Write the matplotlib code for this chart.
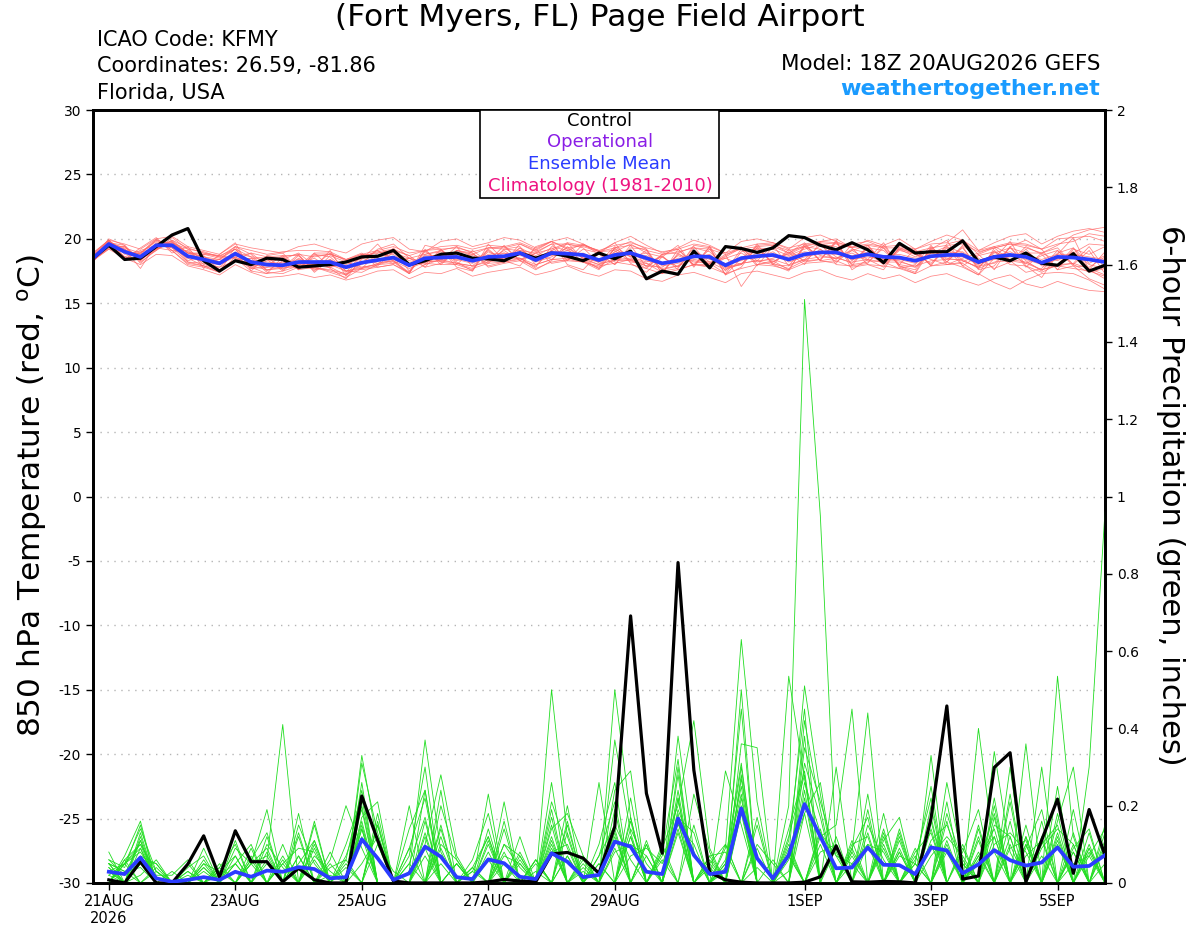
import pandas as pd
import matplotlib
matplotlib.use("Agg")
import matplotlib.pyplot as plt
import matplotlib.ticker as mticker
from matplotlib.patches import Rectangle

plt.rcParams['font.family'] = ['DejaVu Sans']
plt.rcParams['axes.unicode_minus'] = False

# 6-hourly steps from the 18Z 20AUG2026 run
times = pd.date_range("2026-08-20 18:00", periods=65, freq="6h")
precip_times = times[1:]  # 6h accumulations start at the first forecast step

tick_dates = ["2026-08-21", "2026-08-23", "2026-08-25", "2026-08-27",
              "2026-08-29", "2026-09-01", "2026-09-03", "2026-09-05"]
tick_labels = ["21AUG\n2026", "23AUG", "25AUG", "27AUG", "29AUG", "1SEP", "3SEP", "5SEP"]

# 850 hPa temperature (C)
control_temp = [18.5, 19.5, 18.4, 18.5, 19.4, 20.3, 20.8, 18.3, 17.5, 18.3, 18.0, 18.5, 18.4,
                17.8, 17.9, 18.0, 18.2, 18.6, 18.65, 19.1, 18.0, 18.3, 18.8, 18.9, 18.5, 18.45,
                18.3, 18.9, 18.5, 18.9, 18.65, 18.3, 18.9, 18.45, 19.05, 16.9, 17.5, 17.25, 19.05,
                17.75, 19.4, 19.25, 18.95, 19.3, 20.25, 20.1, 19.5, 19.15, 19.7, 19.15, 18.15, 19.65,
                18.9, 19.0, 19.0, 19.85, 18.2, 18.6, 18.3, 18.9, 18.1, 17.95, 18.85, 17.5, 17.95]
mean_temp = [18.5, 19.6, 19.0, 18.6, 19.5, 19.5, 18.65, 18.4, 18.1, 18.85, 18.2, 18.0, 17.95,
             18.2, 18.2, 18.2, 17.8, 18.15, 18.35, 18.55, 17.95, 18.5, 18.55, 18.6, 18.3, 18.6,
             18.65, 18.9, 18.35, 18.9, 18.85, 18.75, 18.35, 18.75, 18.9, 18.5, 18.1, 18.3, 18.65,
             18.6, 17.95, 18.5, 18.65, 18.75, 18.4, 18.8, 18.95, 18.95, 18.55, 18.8, 18.6, 18.55,
             18.3, 18.65, 18.75, 18.75, 18.2, 18.6, 18.75, 18.6, 18.15, 18.6, 18.55, 18.4, 18.2]

temp_m01 = [18.8, 19.9, 18.8, 18.9, 19.9, 19.1, 18.1, 17.9, 17.4, 18.6, 18.9, 18.6, 17.6, 18.7, 17.6, 17.8, 17.2, 18.1, 19.2, 19.6, 18.5, 17.8, 19.1, 19.4, 18.9, 17.9, 18.2, 19.6, 19.1, 19.8, 19.2, 18.2, 17.6, 19.3, 19.8, 19.2, 17.5, 17.7, 19.5, 19.3, 17.2, 17.8, 19.5, 19.6, 18.9, 18.0, 19.8, 20.0, 19.3, 18.0, 17.6, 19.4, 19.1, 17.9, 19.6, 19.9, 18.8, 17.6, 19.4, 19.9, 19.2, 17.6, 17.9, 16.9, 16.4]
temp_m02 = [18.3, 19.3, 19.4, 18.2, 19.1, 19.9, 19.3, 18.9, 18.6, 19.4, 17.8, 17.3, 18.6, 17.6, 18.7, 18.8, 18.4, 18.9, 17.8, 18.0, 17.4, 19.1, 18.2, 18.0, 17.6, 19.3, 19.4, 18.3, 17.6, 18.3, 19.7, 19.5, 19.1, 18.2, 18.0, 17.7, 18.8, 19.2, 18.0, 17.9, 18.7, 19.4, 18.0, 17.9, 17.6, 19.4, 18.3, 18.1, 19.6, 19.8, 19.3, 17.9, 17.4, 19.4, 18.2, 17.8, 17.2, 19.3, 19.6, 19.3, 18.9, 19.5, 20.3, 20.7, 20.9]
temp_m03 = [18.6, 19.5, 19.2, 17.7, 19.6, 19.8, 18.3, 18.7, 17.6, 18.4, 18.5, 18.4, 17.5, 18.5, 17.8, 17.5, 17.2, 18.7, 18.9, 19.1, 17.5, 19.0, 18.2, 19.1, 18.7, 18.1, 19.2, 19.4, 18.0, 18.4, 18.3, 19.2, 18.9, 18.0, 19.5, 17.8, 18.7, 17.6, 18.0, 19.2, 17.5, 19.2, 17.9, 19.4, 18.9, 19.5, 19.7, 18.0, 17.9, 19.5, 18.1, 19.2, 18.9, 18.0, 19.3, 17.9, 18.7, 19.0, 18.0, 17.9, 17.4, 18.0, 19.3, 17.6, 19.0]
temp_m04 = [18.2, 19.8, 18.6, 18.4, 19.3, 19.1, 19.1, 18.0, 18.4, 19.4, 18.8, 17.5, 18.3, 17.7, 18.8, 18.6, 17.5, 17.4, 18.0, 18.1, 18.5, 18.0, 19.2, 18.2, 17.5, 19.2, 18.2, 18.4, 18.9, 19.6, 18.3, 18.2, 17.8, 19.3, 18.3, 19.1, 17.3, 18.9, 19.4, 17.9, 18.5, 18.0, 19.3, 18.1, 17.7, 18.3, 18.4, 19.7, 18.0, 18.2, 19.3, 17.9, 17.6, 19.3, 18.2, 19.4, 17.6, 17.9, 19.4, 17.8, 18.9, 19.3, 18.0, 19.1, 17.3]
temp_m05 = [18.5, 20.0, 19.5, 18.1, 19.2, 19.9, 18.9, 18.9, 18.7, 18.5, 17.7, 18.3, 18.4, 18.9, 17.9, 18.9, 17.5, 17.7, 17.9, 19.0, 18.3, 18.1, 18.0, 19.1, 18.8, 18.3, 19.1, 18.3, 17.9, 19.1, 19.6, 19.3, 18.1, 18.3, 18.4, 17.9, 17.8, 18.7, 18.2, 18.1, 17.3, 19.0, 19.2, 18.2, 18.9, 19.7, 18.3, 18.5, 19.1, 18.4, 17.8, 19.3, 18.8, 18.1, 19.4, 18.3, 17.8, 18.9, 19.3, 18.3, 17.5, 18.9, 19.3, 18.1, 18.7]
temp_m06 = [18.6, 19.6, 18.6, 19.1, 19.5, 19.3, 18.2, 18.1, 17.8, 18.9, 18.6, 17.6, 17.7, 18.0, 18.5, 17.7, 16.9, 18.5, 19.1, 18.3, 17.4, 18.8, 19.0, 18.1, 17.9, 19.0, 18.4, 19.3, 18.7, 19.3, 18.5, 18.3, 17.7, 19.0, 19.6, 18.9, 17.6, 17.9, 19.3, 19.0, 17.8, 18.1, 18.3, 19.5, 17.9, 18.4, 19.5, 18.6, 18.1, 19.3, 19.1, 18.0, 17.8, 19.2, 18.4, 19.3, 17.7, 19.1, 18.2, 19.2, 17.9, 17.9, 18.1, 19.4, 17.7]
temp_m07 = [18.4, 19.2, 19.1, 18.8, 19.9, 19.6, 18.5, 18.8, 18.7, 19.2, 17.9, 18.6, 18.7, 18.7, 17.5, 18.7, 18.2, 17.8, 18.0, 19.3, 17.9, 18.2, 18.3, 19.4, 17.8, 18.4, 18.9, 18.5, 17.8, 19.4, 19.1, 19.6, 19.0, 19.1, 18.2, 18.1, 17.4, 18.8, 18.3, 18.1, 18.6, 19.3, 18.3, 18.0, 17.9, 19.4, 19.2, 18.4, 19.2, 18.9, 18.0, 19.1, 18.8, 18.4, 18.0, 18.5, 18.9, 19.4, 18.8, 18.1, 18.7, 19.1, 17.9, 17.8, 18.6]
temp_m08 = [18.8, 19.5, 19.2, 18.3, 19.4, 19.7, 19.2, 18.3, 18.0, 18.6, 17.9, 18.1, 17.9, 17.9, 18.9, 17.8, 18.3, 18.8, 18.5, 18.1, 18.5, 18.8, 19.1, 18.3, 18.8, 19.3, 19.2, 19.1, 18.9, 18.4, 19.4, 18.5, 18.0, 19.2, 18.6, 18.9, 18.6, 17.8, 19.0, 18.5, 17.7, 18.0, 19.3, 19.2, 18.7, 19.2, 19.6, 19.4, 18.3, 19.3, 18.4, 18.3, 17.8, 18.9, 19.4, 18.9, 17.9, 18.1, 19.3, 18.9, 18.9, 18.3, 19.0, 18.0, 17.7]
temp_m09 = [18.2, 19.7, 19.3, 18.9, 19.8, 19.3, 18.5, 17.9, 17.5, 18.3, 18.5, 17.4, 17.3, 17.8, 17.7, 17.6, 17.3, 17.7, 18.1, 18.3, 17.3, 18.0, 18.4, 18.1, 17.7, 18.1, 18.2, 18.5, 17.7, 18.2, 18.4, 18.2, 17.9, 18.1, 18.4, 17.7, 17.3, 17.6, 18.0, 17.8, 17.3, 17.7, 18.0, 18.3, 17.6, 18.1, 18.2, 18.3, 17.8, 18.0, 17.9, 17.7, 17.3, 17.9, 18.0, 18.1, 17.3, 16.6, 16.1, 16.8, 17.3, 17.4, 17.3, 16.8, 16.1]
temp_m10 = [18.9, 19.9, 18.9, 19.0, 19.2, 19.8, 18.9, 18.8, 18.5, 19.2, 18.6, 18.5, 18.6, 18.8, 18.6, 18.8, 18.4, 18.6, 19.0, 19.2, 18.7, 19.1, 19.2, 19.3, 19.0, 19.3, 19.3, 19.6, 19.0, 19.6, 19.6, 19.4, 19.0, 19.3, 19.5, 19.1, 18.8, 19.0, 19.3, 19.2, 18.8, 19.2, 19.4, 19.5, 19.1, 19.4, 19.7, 19.6, 19.3, 19.5, 19.3, 19.3, 19.0, 19.3, 19.5, 19.6, 19.0, 19.3, 19.6, 19.5, 19.2, 19.6, 19.8, 20.4, 20.2]
temp_m11 = [18.7, 19.9, 19.6, 19.2, 20.0, 20.2, 19.4, 19.1, 18.8, 19.6, 19.3, 19.1, 18.9, 19.4, 19.6, 19.2, 18.9, 19.6, 19.9, 20.1, 19.2, 19.0, 19.8, 20.0, 19.4, 19.7, 20.1, 19.9, 19.3, 19.8, 20.1, 19.6, 19.0, 19.7, 20.2, 19.5, 18.9, 19.3, 19.9, 19.5, 18.9, 19.8, 20.0, 19.7, 19.2, 20.1, 20.3, 19.8, 19.3, 19.9, 19.5, 20.0, 19.2, 19.8, 20.3, 19.9, 19.1, 19.7, 20.2, 20.4, 19.6, 20.2, 20.6, 20.8, 20.5]
temp_m12 = [18.6, 19.7, 19.5, 18.3, 19.6, 19.6, 18.2, 17.9, 17.8, 18.3, 18.9, 17.9, 18.7, 17.6, 18.9, 18.9, 18.3, 17.6, 17.8, 18.0, 17.3, 19.2, 18.0, 18.0, 19.1, 18.2, 19.5, 18.3, 19.2, 18.1, 18.3, 19.6, 18.8, 18.0, 19.3, 19.2, 17.3, 19.2, 17.9, 19.4, 17.8, 18.0, 19.6, 18.0, 19.2, 18.2, 18.4, 19.8, 17.9, 18.1, 19.5, 18.0, 19.2, 17.9, 18.2, 19.5, 18.5, 17.7, 18.2, 19.4, 18.8, 17.6, 19.2, 18.8, 19.4]
temp_m13 = [18.4, 19.5, 19.0, 18.8, 19.3, 19.5, 19.0, 18.6, 18.4, 19.2, 17.7, 17.8, 17.8, 18.8, 17.4, 18.4, 17.4, 18.8, 18.7, 18.9, 18.5, 18.2, 18.8, 18.5, 18.2, 19.1, 18.3, 19.3, 18.2, 18.6, 19.3, 18.5, 18.2, 19.4, 18.6, 18.2, 18.6, 17.8, 19.1, 18.2, 18.5, 18.9, 18.2, 18.5, 18.8, 19.4, 18.7, 18.5, 18.9, 18.3, 18.2, 19.2, 18.6, 19.1, 18.5, 18.3, 17.8, 19.0, 18.4, 18.2, 17.6, 18.0, 18.1, 17.7, 17.2]
temp_m14 = [18.6, 19.6, 18.9, 18.5, 19.7, 19.4, 18.6, 18.2, 18.0, 18.8, 18.3, 18.2, 18.1, 18.4, 18.1, 17.8, 18.0, 18.5, 18.1, 18.4, 17.9, 18.7, 18.7, 18.4, 18.1, 18.8, 18.9, 18.7, 18.5, 19.1, 18.7, 18.9, 18.3, 18.6, 18.9, 18.3, 18.0, 18.5, 18.5, 18.8, 17.8, 18.6, 18.5, 19.0, 18.2, 18.6, 18.9, 18.8, 18.7, 18.9, 18.7, 18.8, 18.5, 18.6, 18.9, 19.0, 18.1, 18.4, 18.6, 18.7, 18.4, 18.8, 18.8, 18.6, 18.4]
temp_m15 = [18.5, 19.8, 19.2, 18.6, 19.3, 19.7, 18.9, 18.6, 18.2, 19.0, 18.0, 17.8, 18.2, 18.0, 18.0, 18.4, 17.7, 18.0, 18.6, 18.8, 17.9, 18.3, 18.4, 18.8, 18.5, 18.4, 18.5, 19.1, 18.6, 18.7, 19.1, 18.6, 18.2, 19.0, 18.7, 18.7, 17.9, 18.1, 18.9, 18.4, 18.1, 18.3, 18.9, 18.6, 18.6, 19.0, 18.8, 19.2, 18.4, 18.6, 18.4, 18.4, 18.1, 18.9, 18.6, 18.6, 18.0, 18.7, 19.0, 18.4, 18.0, 18.4, 18.9, 19.6, 19.5]
temp_m16 = [18.3, 19.5, 19.4, 18.4, 19.1, 20.1, 19.2, 19.0, 18.6, 18.5, 17.5, 17.3, 17.5, 17.9, 17.8, 17.4, 17.0, 17.7, 18.9, 19.1, 18.7, 17.8, 18.1, 19.1, 18.9, 17.8, 18.1, 18.3, 18.9, 19.2, 19.7, 18.4, 17.7, 18.4, 18.3, 17.9, 18.8, 18.9, 18.0, 18.0, 18.8, 16.3, 18.0, 18.2, 19.0, 18.3, 19.2, 18.2, 19.1, 19.5, 18.2, 17.7, 18.0, 19.5, 18.0, 18.2, 18.8, 19.3, 18.3, 17.4, 17.7, 19.1, 18.0, 17.4, 17.7]
temp_m17 = [18.3, 19.2, 18.5, 18.0, 18.8, 18.7, 17.9, 17.6, 17.2, 18.0, 17.4, 17.0, 17.1, 17.3, 17.0, 17.2, 16.8, 17.1, 17.5, 17.6, 16.9, 17.4, 17.3, 17.7, 17.1, 17.4, 17.6, 17.8, 17.2, 17.5, 17.9, 17.4, 17.1, 17.6, 17.5, 16.9, 16.7, 17.2, 17.4, 17.0, 16.6, 17.3, 17.5, 17.2, 16.9, 17.4, 17.6, 17.1, 16.8, 17.3, 16.9, 17.2, 16.6, 17.1, 17.3, 16.8, 16.4, 16.9, 17.2, 16.5, 16.2, 16.7, 16.3, 16.0, 15.9]
temp_m18 = [18.6, 19.8, 18.4, 19.3, 20.1, 18.9, 19.4, 17.7, 18.8, 19.7, 17.5, 18.7, 18.9, 17.6, 17.8, 19.1, 17.1, 18.4, 19.6, 18.2, 17.3, 19.5, 19.2, 17.8, 17.5, 19.6, 18.3, 17.9, 19.4, 19.8, 18.0, 17.6, 18.9, 19.7, 18.1, 17.4, 18.6, 19.5, 17.8, 19.4, 17.2, 18.5, 19.4, 18.0, 17.5, 19.6, 18.3, 19.9, 17.6, 18.4, 19.7, 17.8, 17.3, 19.2, 19.9, 17.9, 17.2, 18.5, 19.8, 17.9, 17.0, 18.8, 20.1, 17.6, 16.9]
temp_m19 = [18.9, 19.9, 18.5, 18.9, 20.0, 19.1, 18.0, 17.8, 17.4, 19.4, 19.1, 18.8, 19.0, 19.1, 19.1, 19.0, 18.4, 18.8, 19.1, 19.4, 18.9, 19.1, 19.4, 19.5, 19.2, 19.5, 19.4, 19.7, 19.2, 19.8, 19.3, 19.5, 19.1, 19.5, 19.7, 19.3, 19.0, 19.2, 19.6, 19.4, 18.9, 19.3, 19.6, 19.7, 19.3, 19.6, 19.8, 19.7, 19.4, 19.6, 19.4, 19.5, 19.2, 19.6, 19.7, 20.7, 19.1, 19.4, 19.7, 19.6, 19.2, 20.0, 20.1, 20.2, 19.8]
temp_m20 = [18.4, 19.3, 19.0, 18.4, 19.2, 19.7, 18.9, 18.3, 18.4, 18.6, 17.9, 17.6, 17.8, 17.8, 18.0, 18.0, 17.5, 17.8, 18.0, 18.3, 17.7, 18.2, 18.3, 18.1, 17.9, 18.2, 18.4, 18.5, 18.0, 18.4, 18.5, 18.4, 18.0, 18.4, 18.5, 18.1, 17.7, 17.9, 18.4, 18.2, 17.6, 18.1, 18.3, 18.4, 18.0, 18.4, 18.6, 18.5, 18.2, 18.4, 18.2, 18.2, 17.9, 18.3, 18.4, 18.4, 17.7, 18.2, 18.3, 18.1, 17.6, 17.9, 17.7, 17.5, 17.1]

# 6-hour precipitation (inches), valid 21AUG 00Z onwards
control_precip = [0.008, 0.0, 0.055, 0.0, 0.0, 0.049, 0.122, 0.015,
                  0.135, 0.055, 0.055, 0.003, 0.038, 0.008, 0.0, 0.0,
                  0.225, 0.111, 0.005, 0.0, 0.0, 0.0, 0.0, 0.0,
                  0.003, 0.009, 0.005, 0.003, 0.075, 0.079, 0.064, 0.025,
                  0.146, 0.691, 0.232, 0.077, 0.829, 0.292, 0.027, 0.008,
                  0.002, 0.0, 0.0, 0.0, 0.002, 0.016, 0.096, 0.003,
                  0.002, 0.004, 0.003, 0.0, 0.167, 0.458, 0.01, 0.018,
                  0.299, 0.337, 0.003, 0.111, 0.217, 0.025, 0.19, 0.072]
mean_precip = [0.029, 0.023, 0.066, 0.012, 0.003, 0.008, 0.015, 0.008,
               0.029, 0.016, 0.032, 0.029, 0.041, 0.036, 0.012, 0.015,
               0.113, 0.064, 0.008, 0.025, 0.094, 0.068, 0.015, 0.010,
               0.061, 0.051, 0.016, 0.010, 0.077, 0.055, 0.015, 0.021,
               0.107, 0.094, 0.029, 0.023, 0.167, 0.072, 0.023, 0.029,
               0.193, 0.064, 0.012, 0.072, 0.204, 0.120, 0.038, 0.040,
               0.092, 0.047, 0.046, 0.023, 0.092, 0.084, 0.025, 0.048,
               0.085, 0.059, 0.045, 0.053, 0.092, 0.042, 0.044, 0.072]

precip_m01 = [0.04, 0.00, 0.12, 0.00, 0.00, 0.00, 0.00, 0.00, 0.00, 0.00, 0.08, 0.00, 0.13, 0.00, 0.00, 0.00, 0.26, 0.00, 0.00, 0.00, 0.00, 0.09, 0.00, 0.00, 0.00, 0.16, 0.00, 0.00, 0.19, 0.00, 0.00, 0.00, 0.00, 0.12, 0.00, 0.00, 0.22, 0.00, 0.00, 0.00, 0.28, 0.00, 0.00, 0.20, 1.51, 0.95, 0.08, 0.00, 0.00, 0.00, 0.14, 0.00, 0.00, 0.21, 0.00, 0.00, 0.17, 0.00, 0.00, 0.12, 0.00, 0.00, 0.09, 0.00]
precip_m02 = [0.06, 0.04, 0.15, 0.00, 0.00, 0.05, 0.00, 0.00, 0.00, 0.07, 0.00, 0.10, 0.00, 0.15, 0.00, 0.06, 0.00, 0.18, 0.00, 0.09, 0.22, 0.00, 0.05, 0.00, 0.00, 0.00, 0.12, 0.00, 0.00, 0.20, 0.00, 0.07, 0.21, 0.00, 0.10, 0.00, 0.30, 0.00, 0.04, 0.00, 0.00, 0.17, 0.00, 0.00, 0.24, 0.00, 0.12, 0.00, 0.19, 0.00, 0.00, 0.06, 0.22, 0.00, 0.00, 0.15, 0.00, 0.21, 0.00, 0.00, 0.25, 0.00, 0.30, 0.96]
precip_m03 = [0.03, 0.00, 0.07, 0.05, 0.00, 0.00, 0.06, 0.00, 0.07, 0.00, 0.00, 0.00, 0.18, 0.00, 0.05, 0.00, 0.31, 0.13, 0.00, 0.00, 0.00, 0.24, 0.00, 0.04, 0.12, 0.00, 0.06, 0.00, 0.26, 0.00, 0.07, 0.00, 0.00, 0.22, 0.00, 0.10, 0.00, 0.00, 0.00, 0.09, 0.63, 0.21, 0.00, 0.00, 0.38, 0.00, 0.00, 0.11, 0.00, 0.18, 0.00, 0.00, 0.00, 0.26, 0.06, 0.00, 0.22, 0.00, 0.12, 0.00, 0.00, 0.19, 0.00, 0.00]
precip_m04 = [0.00, 0.07, 0.16, 0.00, 0.00, 0.00, 0.00, 0.04, 0.00, 0.09, 0.00, 0.06, 0.00, 0.00, 0.08, 0.00, 0.15, 0.00, 0.00, 0.14, 0.24, 0.00, 0.00, 0.06, 0.18, 0.00, 0.00, 0.00, 0.00, 0.15, 0.00, 0.10, 0.26, 0.00, 0.00, 0.06, 0.00, 0.23, 0.08, 0.00, 0.50, 0.00, 0.00, 0.535, 0.27, 0.00, 0.00, 0.00, 0.00, 0.11, 0.17, 0.00, 0.14, 0.00, 0.08, 0.19, 0.00, 0.12, 0.00, 0.16, 0.00, 0.00, 0.13, 0.00]
precip_m05 = [0.05, 0.03, 0.04, 0.00, 0.00, 0.00, 0.09, 0.00, 0.00, 0.00, 0.06, 0.41, 0.00, 0.00, 0.00, 0.00, 0.05, 0.12, 0.00, 0.00, 0.00, 0.20, 0.06, 0.00, 0.00, 0.05, 0.00, 0.00, 0.50, 0.12, 0.00, 0.00, 0.14, 0.00, 0.10, 0.00, 0.19, 0.08, 0.00, 0.05, 0.25, 0.00, 0.06, 0.00, 0.35, 0.21, 0.07, 0.00, 0.23, 0.00, 0.00, 0.08, 0.13, 0.00, 0.00, 0.05, 0.18, 0.00, 0.07, 0.11, 0.00, 0.10, 0.00, 0.15]
precip_m06 = [0.02, 0.00, 0.02, 0.06, 0.00, 0.00, 0.04, 0.00, 0.09, 0.05, 0.00, 0.00, 0.07, 0.00, 0.00, 0.10, 0.22, 0.00, 0.00, 0.00, 0.13, 0.00, 0.00, 0.00, 0.00, 0.14, 0.00, 0.06, 0.00, 0.00, 0.04, 0.00, 0.50, 0.17, 0.00, 0.08, 0.00, 0.00, 0.06, 0.00, 0.18, 0.00, 0.00, 0.11, 0.45, 0.00, 0.00, 0.08, 0.00, 0.00, 0.09, 0.00, 0.20, 0.00, 0.00, 0.12, 0.00, 0.23, 0.00, 0.00, 0.10, 0.00, 0.08, 0.00]
precip_m07 = [0.08, 0.00, 0.13, 0.00, 0.00, 0.03, 0.00, 0.00, 0.00, 0.00, 0.12, 0.00, 0.00, 0.09, 0.00, 0.00, 0.00, 0.15, 0.00, 0.07, 0.30, 0.00, 0.00, 0.00, 0.11, 0.00, 0.00, 0.00, 0.09, 0.00, 0.00, 0.05, 0.00, 0.14, 0.05, 0.00, 0.28, 0.00, 0.00, 0.06, 0.31, 0.00, 0.00, 0.07, 0.00, 0.12, 0.15, 0.45, 0.00, 0.00, 0.07, 0.05, 0.00, 0.18, 0.05, 0.00, 0.00, 0.09, 0.11, 0.00, 0.535, 0.12, 0.00, 0.00]
precip_m08 = [0.00, 0.06, 0.10, 0.03, 0.00, 0.00, 0.00, 0.00, 0.05, 0.10, 0.00, 0.00, 0.00, 0.11, 0.00, 0.00, 0.17, 0.21, 0.00, 0.00, 0.00, 0.10, 0.06, 0.00, 0.00, 0.07, 0.05, 0.00, 0.14, 0.18, 0.07, 0.00, 0.12, 0.00, 0.00, 0.09, 0.20, 0.42, 0.09, 0.00, 0.00, 0.09, 0.00, 0.14, 0.29, 0.00, 0.00, 0.08, 0.44, 0.00, 0.11, 0.00, 0.17, 0.00, 0.00, 0.00, 0.12, 0.00, 0.09, 0.19, 0.00, 0.00, 0.10, 0.00]
precip_m09 = [0.04, 0.00, 0.09, 0.00, 0.00, 0.00, 0.05, 0.03, 0.07, 0.00, 0.05, 0.00, 0.00, 0.07, 0.03, 0.00, 0.20, 0.00, 0.00, 0.03, 0.37, 0.08, 0.00, 0.00, 0.08, 0.00, 0.00, 0.03, 0.00, 0.00, 0.00, 0.07, 0.15, 0.06, 0.00, 0.00, 0.24, 0.00, 0.05, 0.10, 0.00, 0.10, 0.05, 0.00, 0.31, 0.17, 0.00, 0.00, 0.10, 0.08, 0.00, 0.07, 0.00, 0.09, 0.00, 0.40, 0.08, 0.00, 0.00, 0.09, 0.14, 0.10, 0.00, 0.09]
precip_m10 = [0.00, 0.05, 0.08, 0.02, 0.02, 0.06, 0.00, 0.00, 0.11, 0.00, 0.00, 0.00, 0.15, 0.05, 0.00, 0.00, 0.33, 0.10, 0.03, 0.00, 0.00, 0.14, 0.00, 0.03, 0.00, 0.10, 0.04, 0.00, 0.17, 0.00, 0.05, 0.00, 0.08, 0.10, 0.07, 0.00, 0.38, 0.08, 0.00, 0.00, 0.20, 0.00, 0.00, 0.03, 0.26, 0.13, 0.07, 0.05, 0.00, 0.14, 0.00, 0.05, 0.25, 0.00, 0.09, 0.00, 0.15, 0.12, 0.00, 0.00, 0.11, 0.00, 0.07, 0.14]
precip_m11 = [0.06, 0.02, 0.11, 0.00, 0.00, 0.00, 0.03, 0.00, 0.00, 0.05, 0.07, 0.00, 0.00, 0.00, 0.02, 0.00, 0.16, 0.00, 0.00, 0.00, 0.10, 0.28, 0.07, 0.00, 0.10, 0.00, 0.00, 0.05, 0.00, 0.13, 0.00, 0.00, 0.00, 0.07, 0.09, 0.05, 0.16, 0.00, 0.07, 0.08, 0.00, 0.04, 0.00, 0.07, 0.51, 0.23, 0.00, 0.10, 0.12, 0.00, 0.08, 0.00, 0.11, 0.15, 0.05, 0.00, 0.10, 0.13, 0.08, 0.00, 0.12, 0.00, 0.09, 0.00]
precip_m12 = [0.00, 0.05, 0.14, 0.03, 0.00, 0.04, 0.07, 0.00, 0.05, 0.00, 0.00, 0.05, 0.09, 0.08, 0.00, 0.05, 0.00, 0.16, 0.00, 0.05, 0.17, 0.00, 0.00, 0.03, 0.12, 0.00, 0.07, 0.00, 0.08, 0.10, 0.00, 0.00, 0.37, 0.13, 0.00, 0.07, 0.15, 0.10, 0.00, 0.05, 0.23, 0.00, 0.00, 0.10, 0.00, 0.08, 0.10, 0.00, 0.15, 0.06, 0.00, 0.00, 0.07, 0.12, 0.07, 0.00, 0.34, 0.08, 0.00, 0.10, 0.15, 0.00, 0.00, 0.05]
precip_m13 = [0.05, 0.00, 0.06, 0.05, 0.00, 0.00, 0.00, 0.05, 0.00, 0.05, 0.09, 0.00, 0.07, 0.00, 0.00, 0.07, 0.19, 0.00, 0.00, 0.09, 0.00, 0.05, 0.00, 0.00, 0.23, 0.00, 0.05, 0.00, 0.12, 0.00, 0.00, 0.05, 0.00, 0.17, 0.00, 0.00, 0.18, 0.00, 0.05, 0.00, 0.27, 0.00, 0.00, 0.08, 0.00, 0.10, 0.00, 0.07, 0.00, 0.10, 0.00, 0.00, 0.33, 0.00, 0.00, 0.07, 0.12, 0.00, 0.10, 0.00, 0.00, 0.05, 0.07, 0.00]
precip_m14 = [0.00, 0.05, 0.10, 0.00, 0.00, 0.02, 0.00, 0.02, 0.05, 0.00, 0.00, 0.00, 0.05, 0.11, 0.00, 0.00, 0.00, 0.10, 0.00, 0.00, 0.12, 0.00, 0.05, 0.00, 0.00, 0.21, 0.00, 0.00, 0.10, 0.00, 0.03, 0.00, 0.13, 0.00, 0.07, 0.00, 0.22, 0.00, 0.00, 0.03, 0.45, 0.00, 0.00, 0.07, 0.00, 0.13, 0.00, 0.05, 0.10, 0.00, 0.08, 0.00, 0.00, 0.08, 0.00, 0.07, 0.00, 0.10, 0.00, 0.07, 0.00, 0.08, 0.00, 0.10]
precip_m15 = [0.00, 0.06, 0.00, 0.04, 0.00, 0.00, 0.05, 0.00, 0.00, 0.06, 0.13, 0.00, 0.00, 0.16, 0.00, 0.04, 0.00, 0.15, 0.00, 0.00, 0.24, 0.00, 0.05, 0.00, 0.14, 0.00, 0.00, 0.06, 0.00, 0.16, 0.00, 0.00, 0.24, 0.29, 0.00, 0.00, 0.13, 0.00, 0.00, 0.10, 0.00, 0.15, 0.00, 0.12, 0.28, 0.00, 0.00, 0.09, 0.17, 0.00, 0.12, 0.00, 0.00, 0.16, 0.00, 0.11, 0.00, 0.16, 0.00, 0.30, 0.00, 0.09, 0.14, 0.00]
precip_m16 = [0.05, 0.00, 0.11, 0.00, 0.00, 0.00, 0.00, 0.04, 0.10, 0.00, 0.00, 0.07, 0.00, 0.10, 0.00, 0.00, 0.14, 0.00, 0.00, 0.20, 0.00, 0.12, 0.00, 0.00, 0.00, 0.10, 0.07, 0.00, 0.15, 0.00, 0.06, 0.00, 0.00, 0.16, 0.00, 0.08, 0.32, 0.00, 0.07, 0.00, 0.36, 0.35, 0.00, 0.00, 0.22, 0.00, 0.09, 0.00, 0.00, 0.12, 0.00, 0.09, 0.00, 0.10, 0.00, 0.06, 0.14, 0.00, 0.12, 0.00, 0.18, 0.00, 0.00, 0.13]
precip_m17 = [0.03, 0.05, 0.00, 0.00, 0.03, 0.00, 0.00, 0.00, 0.00, 0.00, 0.10, 0.04, 0.00, 0.00, 0.04, 0.06, 0.24, 0.00, 0.00, 0.00, 0.09, 0.00, 0.00, 0.04, 0.00, 0.00, 0.00, 0.00, 0.21, 0.09, 0.00, 0.26, 0.00, 0.00, 0.11, 0.00, 0.17, 0.13, 0.00, 0.29, 0.15, 0.00, 0.00, 0.00, 0.42, 0.19, 0.00, 0.00, 0.00, 0.13, 0.00, 0.00, 0.16, 0.00, 0.10, 0.00, 0.20, 0.00, 0.15, 0.00, 0.00, 0.13, 0.00, 0.00]
precip_m18 = [0.05, 0.03, 0.00, 0.03, 0.00, 0.03, 0.00, 0.03, 0.00, 0.06, 0.00, 0.00, 0.12, 0.00, 0.00, 0.00, 0.12, 0.00, 0.00, 0.05, 0.00, 0.15, 0.00, 0.00, 0.06, 0.00, 0.08, 0.00, 0.00, 0.07, 0.00, 0.00, 0.19, 0.00, 0.00, 0.00, 0.00, 0.15, 0.00, 0.00, 0.22, 0.00, 0.00, 0.00, 0.18, 0.26, 0.00, 0.09, 0.00, 0.00, 0.13, 0.00, 0.00, 0.00, 0.00, 0.14, 0.00, 0.30, 0.00, 0.00, 0.16, 0.30, 0.00, 0.00]
precip_m19 = [0.03, 0.00, 0.05, 0.00, 0.00, 0.00, 0.04, 0.00, 0.00, 0.05, 0.19, 0.00, 0.00, 0.06, 0.00, 0.00, 0.14, 0.00, 0.00, 0.00, 0.16, 0.00, 0.00, 0.04, 0.00, 0.08, 0.00, 0.00, 0.11, 0.00, 0.00, 0.00, 0.00, 0.12, 0.00, 0.00, 0.16, 0.00, 0.00, 0.04, 0.30, 0.00, 0.00, 0.09, 0.00, 0.14, 0.00, 0.00, 0.13, 0.00, 0.00, 0.05, 0.00, 0.11, 0.00, 0.00, 0.00, 0.00, 0.36, 0.00, 0.13, 0.00, 0.00, 0.11]
precip_m20 = [0.02, 0.05, 0.09, 0.00, 0.00, 0.00, 0.00, 0.00, 0.00, 0.00, 0.00, 0.05, 0.00, 0.00, 0.06, 0.20, 0.09, 0.00, 0.00, 0.00, 0.07, 0.00, 0.00, 0.00, 0.00, 0.00, 0.00, 0.06, 0.00, 0.07, 0.00, 0.00, 0.09, 0.00, 0.00, 0.00, 0.14, 0.00, 0.00, 0.00, 0.19, 0.00, 0.00, 0.06, 0.18, 0.00, 0.30, 0.00, 0.00, 0.09, 0.00, 0.00, 0.10, 0.00, 0.00, 0.08, 0.00, 0.00, 0.10, 0.00, 0.00, 0.08, 0.00, 0.00]

temp_members = [temp_m01, temp_m02, temp_m03, temp_m04, temp_m05, temp_m06, temp_m07,
                temp_m08, temp_m09, temp_m10, temp_m11, temp_m12, temp_m13, temp_m14,
                temp_m15, temp_m16, temp_m17, temp_m18, temp_m19, temp_m20]
precip_members = [precip_m01, precip_m02, precip_m03, precip_m04, precip_m05, precip_m06,
                  precip_m07, precip_m08, precip_m09, precip_m10, precip_m11, precip_m12,
                  precip_m13, precip_m14, precip_m15, precip_m16, precip_m17, precip_m18,
                  precip_m19, precip_m20]

fig = plt.figure(figsize=(12, 9.27), dpi=100)
ax = fig.add_axes([0.0775, 0.0475, 0.8433, 0.8338])
ax2 = ax.twinx()

# temperature on the left axis
for m in temp_members:
    ax.plot(times, m, color='#ff6464', lw=0.55, alpha=0.8, zorder=2)
ax.plot(times, control_temp, color='black', lw=2.3, zorder=4)
ax.plot(times, mean_temp, color='#2a3cff', lw=2.7, zorder=5)

# precipitation on the right axis
for m in precip_members:
    ax2.plot(precip_times, m, color='#22dd22', lw=0.6, zorder=2)
ax2.plot(precip_times, control_precip, color='black', lw=2.3, zorder=4)
ax2.plot(precip_times, mean_precip, color='#2a3cff', lw=2.7, zorder=5)

ax.set_xlim(times[0], times[-1])
ax.set_ylim(-30, 30)
ax2.set_ylim(0, 2)
ax.set_yticks(range(-30, 31, 5))
ax2.set_yticks([i * 0.2 for i in range(11)])
ax2.yaxis.set_major_formatter(mticker.FormatStrFormatter('%g'))
ax.set_xticks(pd.to_datetime(tick_dates))
ax.set_xticklabels(tick_labels)

ax.yaxis.grid(True, linestyle=(0, (1, 4)), color='#b5b5b5', lw=1.0)
ax.set_axisbelow(True)

for a in (ax, ax2):
    for s in a.spines.values():
        s.set_linewidth(2.0)
    a.tick_params(direction='out', length=5, width=1.0, labelsize=10)
ax.tick_params(axis='x', labelsize=10.5, pad=3)

# legend box at the top centre of the plot
ax2.add_patch(Rectangle((0.3824, 0.8862), 0.2362, 0.1138, transform=ax2.transAxes,
                        fill=True, facecolor='white', edgecolor='black', lw=1.2, zorder=10))
legend_items = [("Control", 'black', 0.9858), ("Operational", '#8a1ee6', 0.9586),
                ("Ensemble Mean", '#2a3cff', 0.930), ("Climatology (1981-2010)", '#ee1280', 0.9017)]
for txt, col, yy in legend_items:
    ax2.text(0.501, yy, txt, color=col, fontsize=13, ha='center', va='center',
             transform=ax2.transAxes, zorder=11)

# header texts
fig.text(0.5, 0.9806, "(Fort Myers, FL) Page Field Airport", fontsize=22.5, ha='center', va='center')
fig.text(0.081, 0.957, "ICAO Code: KFMY", fontsize=15, ha='left', va='center')
fig.text(0.081, 0.9288, "Coordinates: 26.59, -81.86", fontsize=15, ha='left', va='center')
fig.text(0.081, 0.8997, "Florida, USA", fontsize=15, ha='left', va='center')
fig.text(0.9167, 0.931, "Model: 18Z 20AUG2026 GEFS", fontsize=15.5, ha='right', va='center')
fig.text(0.9167, 0.904, "weathertogether.net", fontsize=16, fontweight='bold',
         color='#1a9bff', ha='right', va='center')

fig.text(0.027, 0.465, "850 hPa Temperature (red, $^{\\mathrm{o}}$C)", fontsize=22.5,
         rotation=90, ha='center', va='center')
fig.text(0.975, 0.466, "6-hour Precipitation (green, inches)", fontsize=22,
         rotation=270, ha='center', va='center')

fig.savefig("out.png", dpi=100)
